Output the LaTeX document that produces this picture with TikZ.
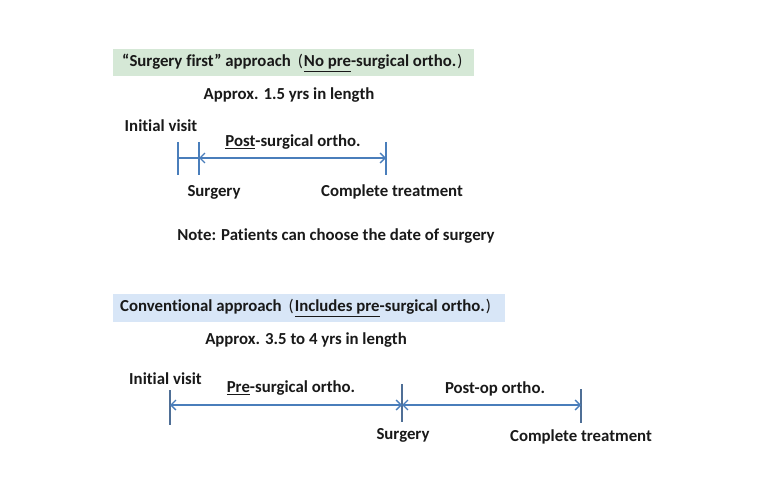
\documentclass[tikz,border=0pt]{standalone}
\usepackage{fontspec}
\setmainfont{Carlito}[BoldFont=Carlito Bold, Ligatures=CommonOff]
\usetikzlibrary{arrows.meta}
\definecolor{greenbox}{HTML}{D5E8D6}
\definecolor{bluebox}{HTML}{D8E6F7}
\definecolor{lineblue}{HTML}{4A7EBB}
\definecolor{tickblue}{HTML}{4F6F96}
\newcommand{\ul}[1]{\underline{#1}}
\newcommand{\lp}{\hspace{7pt}{\mdseries (}\hspace{1pt}}
\newcommand{\rp}{\hspace{1pt}{\mdseries )}}
\begin{document}
\begin{tikzpicture}[x=1pt,y=-1pt,
  txt/.style={font=\fontsize{16.8}{19}\selectfont\bfseries, inner sep=0pt, text=black!90},
  tick/.style={draw=lineblue, line width=1.3pt},
  span/.style={draw=lineblue, line width=1.3pt, {Straight Barb[length=5pt,width=10pt]}-{Straight Barb[length=5pt,width=10pt]}}]
\useasboundingbox (0,0) rectangle (760,500);
% --- top: surgery first
\node[fill=greenbox, minimum width=361pt, minimum height=27pt, inner sep=0pt] (box1) at (293.5,62.5) {};
\node[txt, anchor=west] (t1) at (122,63) {“Surgery first” approach\lp\ul{No pre}-surgical ortho.\rp};
\node[txt] (len1) at (289,95) {Approx. 1.5 yrs in length};
\node[txt] (iv1) at (161,126) {Initial visit};
\coordinate (a1) at (178,142); \coordinate (a1b) at (178,175);
\coordinate (s1) at (199,142); \coordinate (s1b) at (199,175);
\coordinate (c1) at (386,142); \coordinate (c1b) at (386,175);
\draw[tick] (a1) -- (a1b);
\draw[tick] (s1) -- (s1b);
\draw[tick] (c1) -- (c1b);
\coordinate (m1a) at (178,158); \coordinate (m1s) at (199,158); \coordinate (m1c) at (386,158);
\draw[tick] (m1a) -- (m1s);
\draw[span] (m1s) -- (m1c);
\node[txt] (post1) at (293,142) {\ul{Post}-surgical ortho.};
\node[txt] (sg1) at (214,192) {Surgery};
\node[txt] (ct1) at (392,192) {Complete treatment};
\node[txt] (note) at (336,236) {Note: Patients can choose the date of surgery};
% --- bottom: conventional
\node[fill=bluebox, minimum width=392pt, minimum height=28pt, inner sep=0pt] (box2) at (309,308) {};
\node[txt, anchor=west] (t2) at (120,308) {Conventional approach\lp\ul{Includes pre}-surgical ortho.\rp};
\node[txt] (len2) at (306,340) {Approx. 3.5 to 4 yrs in length};
\node[txt] (iv2) at (165.5,379) {Initial visit};
\coordinate (a2) at (170,390); \coordinate (a2b) at (170,425);
\coordinate (s2) at (402,384); \coordinate (s2b) at (402,422);
\coordinate (c2) at (581,389); \coordinate (c2b) at (581,423);
\draw[tick, draw=tickblue] (a2) -- (a2b);
\draw[tick, draw=tickblue] (s2) -- (s2b);
\draw[tick, draw=tickblue] (c2) -- (c2b);
\coordinate (m2a) at (170,405); \coordinate (m2s) at (402,405); \coordinate (m2c) at (581,405);
\draw[span] (m2a) -- (m2s);
\draw[span] (m2s) -- (m2c);
\node[txt] (pre2) at (291,388) {\ul{Pre}-surgical ortho.};
\node[txt] (post2) at (495,389) {Post-op ortho.};
\node[txt] (sg2) at (403,435) {Surgery};
\node[txt] (ct2) at (581,437) {Complete treatment};
\end{tikzpicture}
\end{document}
